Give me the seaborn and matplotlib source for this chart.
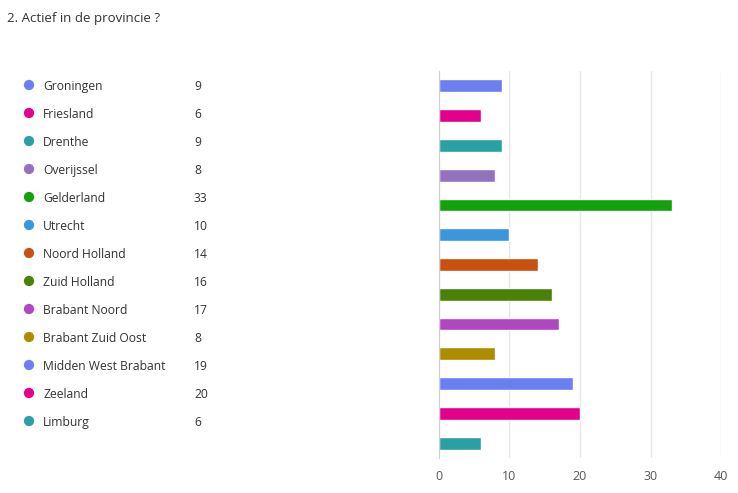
import matplotlib
matplotlib.use("Agg")
import matplotlib.pyplot as plt
import seaborn as sns
import pandas as pd

# Data
provinces = ['Groningen', 'Friesland', 'Drenthe', 'Overijssel', 'Gelderland', 'Utrecht',
             'Noord Holland', 'Zuid Holland', 'Brabant Noord', 'Brabant Zuid Oost',
             'Midden West Brabant', 'Zeeland', 'Limburg']
counts = [9, 6, 9, 8, 33, 10, 14, 16, 17, 8, 19, 20, 6]
colors = ['#6b7ff0', '#e3008c', '#2aa0a4', '#9373c0', '#13a10e', '#3a96dd', '#ca5010',
          '#498205', '#b146c2', '#ae8c00', '#6b7ff0', '#e3008c', '#2aa0a4']
x_ticks = [0, 10, 20, 30, 40]
title = '2. Actief in de provincie ?'

df = pd.DataFrame({'province': provinces, 'count': counts})

sns.set_style('white')
plt.rcParams['font.family'] = ['Segoe UI', 'Open Sans', 'DejaVu Sans']

W, H = 738, 493
fig = plt.figure(figsize=(W / 100, H / 100), dpi=100)

# bar chart area
ax = fig.add_axes([439 / W, 1 - 458 / H, 282 / W, 387 / H])
sns.barplot(data=df, y='province', x='count', hue='province', palette=colors,
            legend=False, width=0.43, saturation=1, ax=ax, orient='h')
ax.set_xlim(0, 40)
ax.set_xticks(x_ticks)
ax.set_yticks([])
ax.set_xlabel('')
ax.set_ylabel('')
ax.grid(axis='x', color='#e6e6e6', linewidth=1)
ax.set_axisbelow(True)
for s in ['top', 'right', 'bottom']:
    ax.spines[s].set_visible(False)
ax.spines['left'].set_color('#d0d0d0')
ax.tick_params(axis='x', length=7, color='#e6e6e6', labelsize=9, labelcolor='#555555', pad=2)

# legend area on the left
lax = fig.add_axes([0, 1 - 435 / H, 300 / W, 364 / H])
lax.set_xlim(0, 300)
lax.set_ylim(len(provinces) - 0.5, -0.5)
lax.axis('off')
idx = list(range(len(provinces)))
lax.scatter([29] * len(idx), idx, s=55, c=colors, linewidths=0)
for i, (name, n) in enumerate(zip(provinces, counts)):
    lax.text(43, i, name, va='center_baseline', ha='left', fontsize=8.7, color='#333333')
    lax.text(194, i, str(n), va='center_baseline', ha='left', fontsize=8.7, color='#333333')

fig.text(7 / W, 1 - 17 / H, title, va='center_baseline', ha='left', fontsize=9.5, color='#333333')

fig.savefig('out.png', dpi=100)
